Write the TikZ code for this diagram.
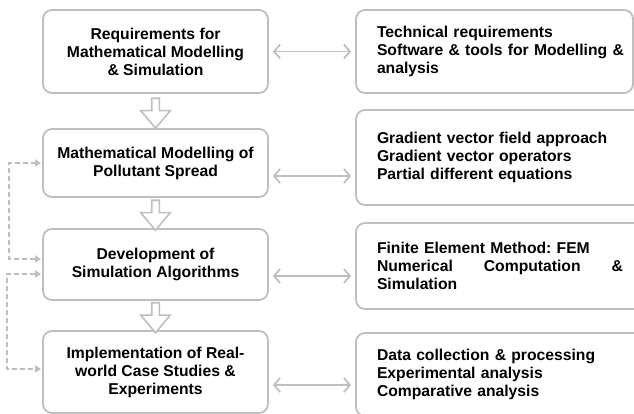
\documentclass[tikz,border=0pt]{standalone}
\usepackage{fontspec}
\setmainfont{Liberation Sans}
\usetikzlibrary{positioning,calc,arrows.meta,shapes.arrows}
\definecolor{boxgray}{RGB}{191,191,191}

\begin{document}
\begin{tikzpicture}[x=1pt,y=-1pt,
    every node/.style={font=\fontsize{15.7}{18}\selectfont\bfseries\frenchspacing},
    leftbox/.style={draw=boxgray, line width=1.8pt, rounded corners=9pt, minimum width=225pt, align=center, inner sep=0pt},
    rightbox/.style={draw=boxgray, line width=1.8pt, rounded corners=9pt, text width=246pt, align=left, inner xsep=21pt, inner ysep=0pt},
    twoway/.style={{Straight Barb[length=6pt,width=14pt]}-{Straight Barb[length=6pt,width=14pt]}, draw=boxgray, line width=1.8pt, shorten <=4pt, shorten >=4pt},
    downarr/.style={single arrow, draw=boxgray, line width=1.6pt, fill=white, rotate=-90, minimum height=30pt, inner sep=3pt, single arrow head extend=11pt, single arrow tip angle=80},
    backlink/.style={{Triangle[length=6pt,width=7pt]}-{Triangle[length=6pt,width=7pt]}, draw=boxgray, line width=1.5pt, dash pattern=on 5pt off 3pt, shorten <=1pt, shorten >=1pt}]
    \useasboundingbox (0,0) rectangle (634,414);

    % the stages on the left
    \node[leftbox, minimum height=83pt] (L1) at (155.5,51.5) {Requirements for\\Mathematical Modelling\\\& Simulation};
    \node[leftbox, minimum height=68pt] (L2) at (155.5,163) {Mathematical Modelling of\\Pollutant Spread};
    \node[leftbox, minimum height=71pt] (L3) at (155.5,264.5) {Development of\\Simulation Algorithms};
    \node[leftbox, minimum height=82pt] (L4) at (155.5,372) {Implementation of Real-\\world Case Studies \&\\Experiments};

    % the details on the right
    \node[rightbox, text width=235pt, minimum height=83pt] (R1) at (494.5,51.5) {Technical requirements\\\makebox[235pt][l]{Software \& tools for Modelling \&}\\analysis};
    \node[rightbox, minimum height=95pt] (R2) at (500,157.5) {Gradient vector field approach\\Gradient vector operators\\Partial different equations};
    \node[rightbox, minimum height=86pt] (R3) at (500,266) {Finite Element Method: FEM\\Numerical\hfill Computation\hfill\&\\Simulation};
    \node[rightbox, minimum height=83pt] (R4) at (500,374.5) {Data collection \& processing\\Experimental analysis\\Comparative analysis};

    % block arrows between the stages
    \node[downarr] (d1) at ($(L1.south)!0.5!(L2.north)$) {};
    \node[downarr] (d2) at ($(L2.south)!0.5!(L3.north)$) {};
    \node[downarr] (d3) at ($(L3.south)!0.5!(L4.north)$) {};

    % the arrows to the details
    \draw[twoway] (L1.east) -- (L1.east -| R1.west);
    \draw[twoway] ([yshift=-13pt]L2.east) -- ([yshift=-13pt]L2.east -| R2.west);
    \draw[twoway] ([yshift=-11.5pt]L3.east) -- ([yshift=-11.5pt]L3.east -| R3.west);
    \draw[twoway] ([yshift=-13pt]L4.east) -- ([yshift=-13pt]L4.east -| R4.west);

    % dashed feedback links
    \draw[backlink] ([yshift=5.5pt]L3.west) -- ++(-33,0) |- (L2.west);
    \draw[backlink] ([yshift=-9.5pt]L3.west) -- ++(-35,0) |- ([yshift=3pt]L4.west);
\end{tikzpicture}
\end{document}
